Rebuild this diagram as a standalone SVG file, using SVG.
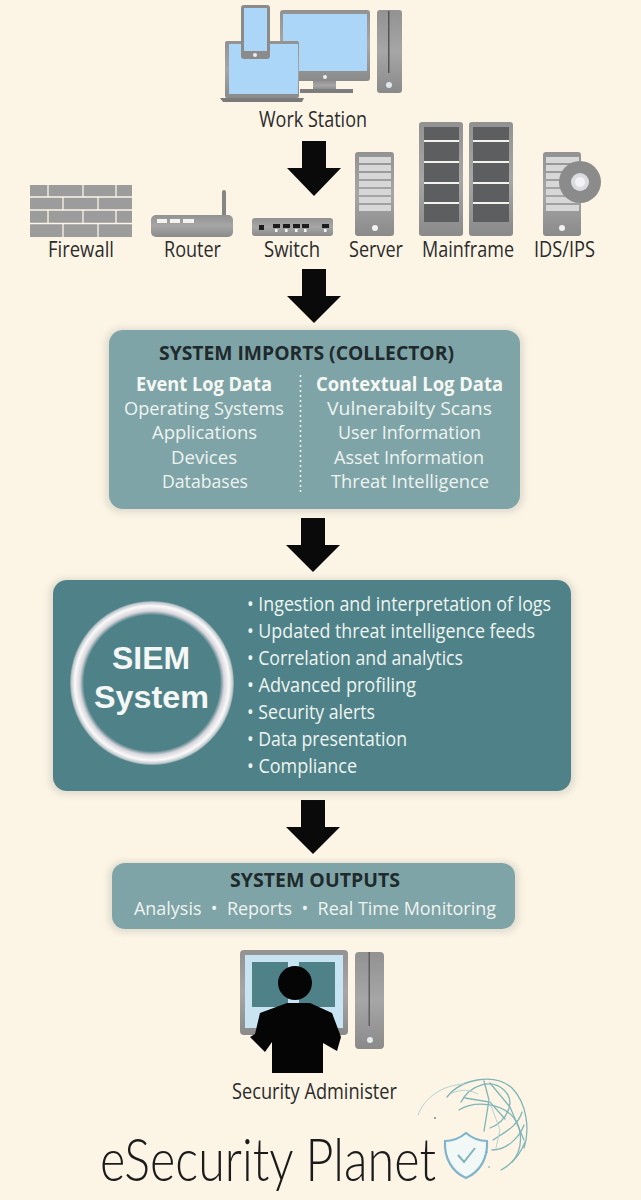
<svg xmlns="http://www.w3.org/2000/svg" width="641" height="1200" viewBox="0 0 641 1200">
<style>
text{font-family:"Open Sans","Noto Sans","Liberation Sans",sans-serif}
.lbl{font-size:21px;fill:#2b2b2b}
.hd{font-size:19px;font-weight:700;fill:#1f2a2c}
.sub{font-size:19px;font-weight:700;fill:#f6f8f4}
.ln{font-size:19px;fill:#eef3ef}
.it{font-size:20px;fill:#eef4f0}
.big{font-family:"Liberation Sans",Arial,sans-serif;font-size:32px;font-weight:700;fill:#f4f7f5}
.g{fill:url(#gray)}
.scr{fill:#acd6f7}
.st{fill:#d7d7d7}
.dk{fill:#5c5e5f}
.wl{fill:#f4f2ec}
.arc{fill:none;stroke:#7fb4b8;stroke-width:1.300;stroke-linecap:round}
.arc2{fill:none;stroke:#b5d3d4;stroke-width:1;stroke-linecap:round}
</style>
<defs>
<linearGradient id="gray" x1="0" y1="0" x2="0" y2="1"><stop offset="0" stop-color="#929292"/><stop offset="0.5" stop-color="#a6a6a6"/><stop offset="1" stop-color="#8a8a8a"/></linearGradient>
<radialGradient id="ring" gradientUnits="userSpaceOnUse" cx="152" cy="683" r="83"><stop offset="0.82" stop-color="#4f8288"/><stop offset="0.87" stop-color="#d9d6dc"/><stop offset="0.93" stop-color="#fafafa"/><stop offset="0.97" stop-color="#c5ccd0"/><stop offset="1" stop-color="#4f8288"/></radialGradient>
<filter id="soft" x="-5%" y="-5%" width="110%" height="110%"><feGaussianBlur stdDeviation="3"/></filter>
</defs>
<rect width="641" height="1200" fill="#fcf5e6"/>
<g id="connectors" fill="#0a0a0a">
<polygon points="302,141 326,141 326,168 341,168 314,196 287,168 302,168"/>
<polygon points="302,269 326,269 326,296 341,296 314,323 287,296 302,296"/>
<polygon points="301,518 325,518 325,545 340,545 313,572 286,545 301,545"/>
<polygon points="301,800 325,800 325,827 340,827 313,854 286,827 301,827"/>
</g>
<g id="workstation">
<rect class="g" x="280" y="10" width="90" height="71" rx="3"/><rect class="scr" x="283" y="14" width="84" height="57"/><circle cx="325" cy="77" r="2" fill="#eee"/>
<rect class="g" x="313" y="81" width="23" height="9"/><rect x="300" y="89" width="53" height="4" fill="#7d7d7d"/>
<rect class="g" x="377" y="10" width="25" height="83" rx="3"/><rect x="388" y="11" width="1.500" height="62" fill="#555"/><circle cx="389" cy="85" r="3" fill="#dfe6ec"/>
<rect class="g" x="225" y="41" width="74" height="57" rx="2"/><rect class="scr" x="229" y="44" width="69" height="50"/><polygon points="220,98 304,98 302,102 223,102" fill="#7b7b7b"/>
<rect x="241" y="5" width="29" height="54" rx="3" fill="#8b8b8b"/><rect class="scr" x="244" y="8" width="23" height="43"/><circle cx="255" cy="55" r="2" fill="#eee"/>
<text class="lbl" x="259" y="127" textLength="108" lengthAdjust="spacingAndGlyphs">Work Station</text>
</g>
<g id="firewall">
<rect x="30" y="185" width="102" height="52" fill="#9c9c9c"/>
<path d="M30 197h102M30 210h102M30 223.500h102M48 185v12M83 185v12M116 185v12M63 197v13M98 197v13M48 210v13.500M83 210v13.500M116 210v13.500M63 223.500v13.500M98 223.500v13.500" stroke="#fcf5e6" stroke-width="1.300" fill="none"/>
<text class="lbl" x="48" y="257" textLength="66" lengthAdjust="spacingAndGlyphs">Firewall</text>
</g>
<g id="router">
<rect x="222" y="190" width="4" height="28" rx="2" fill="#858585"/><rect class="g" x="151" y="215" width="82" height="22" rx="5"/>
<rect class="wl" x="157" y="219" width="10" height="4"/><rect class="wl" x="170" y="219" width="10" height="4"/><rect class="wl" x="183" y="219" width="11" height="4"/>
<text class="lbl" x="164" y="257" textLength="57" lengthAdjust="spacingAndGlyphs">Router</text>
</g>
<g id="switch">
<rect class="g" x="252" y="218" width="81" height="18" rx="3"/>
<rect x="259" y="225" width="5" height="5" fill="#1d1d1d"/>
<g fill="#1d1d1d"><rect x="273" y="224" width="7" height="4"/><rect x="283" y="224" width="7" height="4"/><rect x="293" y="224" width="7" height="4"/><rect x="302" y="224" width="7" height="4"/><rect x="322" y="224" width="7" height="4"/></g>
<g fill="#f2f2f2"><rect x="275" y="229" width="2.500" height="3"/><rect x="285" y="229" width="2.500" height="3"/><rect x="295" y="229" width="2.500" height="3"/><rect x="304" y="229" width="2.500" height="3"/><rect x="324" y="229" width="2.500" height="3"/></g>
<text class="lbl" x="264" y="257" textLength="56" lengthAdjust="spacingAndGlyphs">Switch</text>
</g>
<g id="server">
<rect class="g" x="355" y="152" width="39" height="84" rx="3"/>
<g class="st"><rect x="359" y="157" width="32" height="6"/><rect x="359" y="165" width="32" height="6"/><rect x="359" y="173" width="32" height="6"/><rect x="359" y="181" width="32" height="6"/><rect x="359" y="189" width="32" height="6"/><rect x="359" y="197" width="32" height="6"/><rect x="359" y="205" width="32" height="6"/></g>
<circle cx="375" cy="228" r="3" fill="#f1f1f1"/>
<text class="lbl" x="349" y="257" textLength="54" lengthAdjust="spacingAndGlyphs">Server</text>
</g>
<g id="mainframe">
<rect class="g" x="419" y="122" width="44" height="114" rx="3"/><rect class="dk" x="424" y="127" width="35" height="95"/>
<rect class="g" x="469" y="122" width="44" height="114" rx="3"/><rect class="dk" x="473" y="127" width="36" height="95"/>
<g class="wl"><rect x="424" y="140" width="35" height="2"/><rect x="424" y="161" width="35" height="2"/><rect x="424" y="182" width="35" height="2"/><rect x="424" y="202" width="35" height="2"/><rect x="473" y="140" width="36" height="2"/><rect x="473" y="161" width="36" height="2"/><rect x="473" y="182" width="36" height="2"/><rect x="473" y="202" width="36" height="2"/></g>
<text class="lbl" x="422" y="257" textLength="92" lengthAdjust="spacingAndGlyphs">Mainframe</text>
</g>
<g id="idsips">
<rect class="g" x="543" y="152" width="38" height="84" rx="3"/>
<g class="st"><rect x="546" y="157" width="33" height="6"/><rect x="546" y="165" width="33" height="6"/><rect x="546" y="173" width="33" height="6"/><rect x="546" y="181" width="33" height="6"/><rect x="546" y="189" width="33" height="6"/><rect x="546" y="197" width="33" height="6"/><rect x="546" y="205" width="33" height="6"/></g>
<circle cx="562" cy="228" r="3" fill="#f1f1f1"/>
<circle cx="580" cy="182" r="21" fill="#8b8b8b"/><circle cx="580" cy="182" r="9" fill="#dadce0"/><circle cx="580" cy="182" r="5" fill="#f3f3f5"/>
<text class="lbl" x="534" y="257" textLength="61" lengthAdjust="spacingAndGlyphs">IDS/IPS</text>
</g>
<g id="collector">
<rect x="105" y="328" width="419" height="185" rx="16" fill="#c9c6ba" opacity="0.5" filter="url(#soft)"/>
<rect x="109" y="330" width="411" height="179" rx="14" fill="#7fa4a8"/>
<text class="hd" x="159" y="360" textLength="295" lengthAdjust="spacingAndGlyphs">SYSTEM IMPORTS (COLLECTOR)</text>
<line x1="300.500" y1="375" x2="300.500" y2="495" stroke="#f2f4ef" stroke-width="1.500" stroke-dasharray="2 3"/>
<text class="sub" x="136" y="391" textLength="136" lengthAdjust="spacingAndGlyphs">Event Log Data</text>
<text class="ln" x="124" y="415" textLength="160" lengthAdjust="spacingAndGlyphs">Operating Systems</text>
<text class="ln" x="152" y="439" textLength="105" lengthAdjust="spacingAndGlyphs">Applications</text>
<text class="ln" x="171" y="464" textLength="66" lengthAdjust="spacingAndGlyphs">Devices</text>
<text class="ln" x="162" y="488" textLength="86" lengthAdjust="spacingAndGlyphs">Databases</text>
<text class="sub" x="316" y="391" textLength="187" lengthAdjust="spacingAndGlyphs">Contextual Log Data</text>
<text class="ln" x="327" y="415" textLength="165" lengthAdjust="spacingAndGlyphs">Vulnerabilty Scans</text>
<text class="ln" x="338" y="439" textLength="143" lengthAdjust="spacingAndGlyphs">User Information</text>
<text class="ln" x="334" y="464" textLength="150" lengthAdjust="spacingAndGlyphs">Asset Information</text>
<text class="ln" x="331" y="488" textLength="158" lengthAdjust="spacingAndGlyphs">Threat Intelligence</text>
</g>
<g id="siem">
<rect x="49" y="578" width="526" height="217" rx="16" fill="#c9c6ba" opacity="0.5" filter="url(#soft)"/>
<rect x="53" y="580" width="518" height="211" rx="14" fill="#4f8288"/>
<circle cx="152" cy="683" r="82" fill="url(#ring)"/>
<text class="big" x="112" y="669" textLength="78" lengthAdjust="spacingAndGlyphs">SIEM</text>
<text class="big" x="94" y="708" textLength="115" lengthAdjust="spacingAndGlyphs">System</text>
<text class="it" x="247" y="611" textLength="304" lengthAdjust="spacingAndGlyphs">• Ingestion and interpretation of logs</text>
<text class="it" x="247" y="638" textLength="288" lengthAdjust="spacingAndGlyphs">• Updated threat intelligence feeds</text>
<text class="it" x="247" y="665" textLength="216" lengthAdjust="spacingAndGlyphs">• Correlation and analytics</text>
<text class="it" x="247" y="692" textLength="169" lengthAdjust="spacingAndGlyphs">• Advanced profiling</text>
<text class="it" x="247" y="719" textLength="128" lengthAdjust="spacingAndGlyphs">• Security alerts</text>
<text class="it" x="247" y="746" textLength="160" lengthAdjust="spacingAndGlyphs">• Data presentation</text>
<text class="it" x="247" y="773" textLength="110" lengthAdjust="spacingAndGlyphs">• Compliance</text>
</g>
<g id="outputs">
<rect x="108" y="861" width="411" height="72" rx="15" fill="#c9c6ba" opacity="0.5" filter="url(#soft)"/>
<rect x="112" y="863" width="403" height="66" rx="13" fill="#7fa4a8"/>
<text class="hd" x="230" y="887" textLength="170" lengthAdjust="spacingAndGlyphs">SYSTEM OUTPUTS</text>
<text class="ln" x="134" y="915" textLength="362" lengthAdjust="spacingAndGlyphs" xml:space="preserve">Analysis  •  Reports  •  Real Time Monitoring</text>
</g>
<g id="admin">
<rect class="g" x="240" y="950" width="108" height="85" rx="4"/>
<rect x="245" y="955" width="98" height="73" fill="#c8e4f3"/>
<rect x="252" y="962" width="36" height="45" fill="#4f8288"/><rect x="299" y="962" width="36" height="45" fill="#4f8288"/>
<rect x="255" y="1035" width="80" height="7" fill="#a9b2b5"/>
<rect class="g" x="355" y="952" width="29" height="97" rx="4"/><rect x="368.500" y="952" width="1.500" height="74" fill="#5e5e5e"/><circle cx="370" cy="1040" r="3" fill="#e4e9ec"/>
<circle cx="295" cy="983" r="17" fill="#050505"/>
<path d="M260 1013L287 1003L310 1003L332 1013L341 1037L337 1051L323 1043L323 1073L272 1073L272 1042L265 1052L250 1037L255 1034Z" fill="#050505"/>
<text class="lbl" x="232" y="1099" textLength="165" lengthAdjust="spacingAndGlyphs">Security Administer</text>
</g>
<g id="logo">
<g>
<path class="arc" d="M447 1097C462 1078 495 1073 512 1088C527 1103 530 1130 524 1148"/>
<path class="arc" d="M461 1102C470 1085 491 1078 504 1090C517 1102 506 1122 490 1128"/>
<path class="arc" d="M459 1110C475 1100 502 1103 514 1118C523 1130 523 1150 512 1162"/>
<path class="arc" d="M484 1081L489 1100L484 1131"/>
<path class="arc" d="M465 1098L490 1102L505 1119"/>
<path class="arc" d="M493 1140C505 1132 518 1126 522 1112"/>
<path class="arc" d="M492 1150C508 1150 520 1136 524 1125"/>
<path class="arc" d="M501 1170C512 1164 520 1155 525 1142"/>
<path class="arc" d="M490 1083L510 1107L524 1140"/>
<path class="arc2" d="M418 1115C424 1098 442 1085 464 1084"/>
<path class="arc2" d="M450 1094C462 1088 470 1090 478 1094"/>
<path class="arc2" d="M489 1100L500 1130L496 1148"/>
<circle cx="435" cy="1118" r="1" fill="#6f8f93"/><circle cx="487" cy="1152" r="1" fill="#9cc2c4"/><circle cx="489" cy="1167" r="1" fill="#9cc2c4"/>
</g>
<path d="M466 1133C472 1138 480 1141 487 1141C488 1158 480 1172 466 1178C452 1172 444 1158 445 1141C452 1141 460 1138 466 1133Z" fill="#f2f8f6" stroke="#7fb4cc" stroke-width="2.200"/>
<path d="M458 1155L464 1162L475 1148" fill="none" stroke="#7fb4b8" stroke-width="2"/>
<text x="100" y="1181" font-size="60" style="font-family:Lato,'Open Sans',sans-serif;font-weight:300" fill="#1b1b1b" textLength="336" lengthAdjust="spacingAndGlyphs">eSecurity Planet</text>
</g>
</svg>
